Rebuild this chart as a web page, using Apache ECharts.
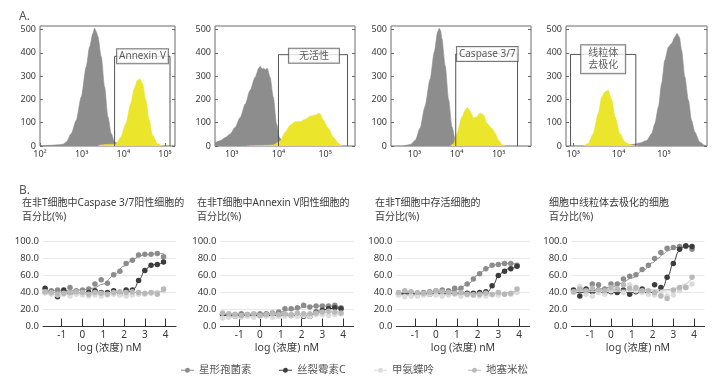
<!DOCTYPE html>
<html><head><meta charset="utf-8">
<script src="https://cdn.jsdelivr.net/npm/echarts@6/dist/echarts.min.js"></script>
<style>html,body{margin:0;padding:0;background:#fff}#c{width:720px;height:376px}</style>
</head><body><div id="c"></div>
<script>
// ---------- Panel A: flow histograms (x = log10 intensity, y = count) ----------
const h1Gray = [[2.0,0],[2.24,3],[2.45,5],[2.56,8],[2.63,17],[2.75,53],[2.87,110],[2.99,210],[3.11,340],[3.19,425],[3.27,483],[3.31,505],[3.35,490],[3.39,470],[3.47,383],[3.55,254],[3.63,125],[3.71,53],[3.79,17],[3.90,7],[4.02,0]];
const h1Yellow = [[3.39,0],[3.45,4],[3.6,6],[3.79,8],[3.83,10],[3.94,39],[4.06,96],[4.18,182],[4.26,246],[4.34,282],[4.40,288],[4.46,268],[4.54,196],[4.62,110],[4.70,46],[4.82,10],[4.94,0]];
const h2Gray = [[2.64,14],[2.75,22],[2.86,36],[2.96,50],[3.07,79],[3.18,122],[3.29,180],[3.39,238],[3.50,295],[3.58,335],[3.61,342],[3.65,330],[3.68,334],[3.72,328],[3.76,334],[3.82,295],[3.89,209],[3.96,94],[4.02,36],[4.11,7],[4.18,0]];
const h2Yellow = [[3.32,0],[3.6,2],[3.89,4],[4.04,22],[4.14,58],[4.25,89],[4.36,104],[4.46,104],[4.57,114],[4.68,128],[4.79,133],[4.85,140],[4.89,138],[4.96,111],[5.07,75],[5.18,36],[5.29,10],[5.36,0]];
const h3Gray = [[2.74,0],[2.90,6],[3.02,25],[3.13,76],[3.25,170],[3.37,286],[3.47,403],[3.55,490],[3.59,505],[3.62,495],[3.65,461],[3.73,344],[3.81,199],[3.89,83],[3.97,25],[4.05,3],[4.10,0]];
const h3Yellow = [[3.85,0],[3.93,10],[4.01,54],[4.13,126],[4.21,156],[4.26,165],[4.33,148],[4.40,119],[4.48,126],[4.56,141],[4.64,134],[4.72,97],[4.84,76],[4.92,54],[5.00,25],[5.08,6],[5.16,0]];
const h4Yellow = [[3.22,0],[3.33,10],[3.44,53],[3.55,139],[3.63,211],[3.70,232],[3.77,239],[3.85,196],[3.92,125],[4.03,53],[4.14,17],[4.25,6],[4.36,1],[4.45,0]];
const h4Gray = [[4.10,0],[4.20,4],[4.32,7],[4.47,13],[4.62,24],[4.73,53],[4.80,96],[4.88,168],[4.95,268],[5.02,368],[5.10,425],[5.17,440],[5.24,468],[5.29,483],[5.34,468],[5.39,411],[5.46,297],[5.54,196],[5.61,110],[5.68,60],[5.79,17],[5.90,3],[5.95,0]];
// gates: [lowX, highX, topY]
const gate1 = [3.79, 5.12, 385];
const gate2 = [4.00, 5.48, 392];
const gate3 = [3.98, 5.45, 395];
const gate4 = [2.94, 4.38, 393];
const gateLabels = ['Annexin V', '无活性', 'Caspase 3/7', '线粒体\n去极化'];
const gateLabelAt = [[4.46, 385], [4.76, 387], [4.73, 395], [3.66, 372]];
const histTicks = [[2,3,4,5],[3,4,5],[3,4,5],[3,4,5]];
const histYTicks = [0,100,200,300,400,500];

// ---------- Panel B: dose response ----------
const compounds = ['星形孢菌素', '丝裂霉素C', '甲氨蝶呤', '地塞米松'];
const doseX = [-1.8,-1.5,-1.2,-0.9,-0.6,-0.3,0.0,0.3,0.6,0.9,1.2,1.5,1.8,2.1,2.4,2.7,3.0,3.3,3.6,3.9];
const fitX = [-1.8,-1.0,0.0,0.5,1.0,1.5,2.0,2.25,2.5,2.75,3.0,3.25,3.5,3.9];
const xTickVals = [-1,0,1,2,3,4];
const bTitles = ['在非T细胞中Caspase 3/7阳性细胞的\n百分比(%)', '在非T细胞中Annexin V阳性细胞的\n百分比(%)', '在非T细胞中存活细胞的\n百分比(%)', '细胞中线粒体去极化的细胞\n百分比(%)'];

const b1Star  = [40,42,43,40,46,42,43,44,50,55,51,61,65,74,78,84,85,85,86,82];
const b1Mito  = [45,40,35,43,39,39,39,40,42,40,40,42,38,43,43,54,66,72,73,76];
const b1Metho = [40,38,37,38,36,38,37,36,37,36,37,38,37,36,37,38,38,39,40,42];
const b1Dexa  = [41,40,38,39,40,41,40,38,40,39,38,40,41,40,41,40,39,40,38,44];
const b1StarFit  = [42,42,43,45,50,60,71,76,80,83,84.5,85,85.5,86];
const b1MitoFit  = [40,40,40,40,40,40,40,41,45,56,66,71,73,75];
const b1MethoFit = [38,38,38,38,37.5,37.5,37.5,37.5,38,38,38.5,39,39.5,41];
const b1DexaFit  = [40,40,40,40,40,40,40,40,40,40,40,40,40.5,42];

const b2Star  = [14,13,14,15,14,14,15,15,16,17,21,21,22,25,23,24,24,24,25,22];
const b2Mito  = [14,12,12,13,13,13,13,14,14,14,14,13,13,12,12,17,19,21,22,21];
const b2Metho = [10,11,12,11,12,11,12,12,11,12,12,13,12,13,12,14,14,13,14,15];
const b2Dexa  = [16,15,14,13,14,15,13,14,15,14,15,14,16,15,15,16,17,18,17,16];
const b2StarFit  = [14,14,14.5,15,17,20,22,23,23.5,24,24,24,24,23.5];
const b2MitoFit  = [13,13,13,13,13,13,13,13,13.5,15.5,18.5,20.5,21.5,22];
const b2MethoFit = [11,11,11.5,11.5,12,12,12.5,12.5,13,13,13.5,13.5,14,14.5];
const b2DexaFit  = [15,15,14.5,14.5,14.5,14.5,15,15,15.5,16,16.5,17,17,17];

const b3Star  = [39,41,40,38,40,41,42,43,42,45,45,50,56,62,68,72,73,74,74,72];
const b3Mito  = [38,38,38,38,38,38,39,39,39,39,39,39,39,40,41,48,60,65,68,71];
const b3Metho = [37,35,36,36,37,38,37,36,37,38,36,37,37,36,36,37,37,38,38,40];
const b3Dexa  = [40,42,41,40,39,40,42,41,40,39,40,38,37,38,39,38,40,38,39,44];
const b3StarFit  = [40,40,40.5,41,43,49,60,65,69,72,73.5,74,74,73.5];
const b3MitoFit  = [38.5,38.5,38.5,38.5,38.5,39,39,39.5,41,49,59,65,68,70];
const b3MethoFit = [37,37,37,37,37,37,37,37,37,37,37.5,38,38.5,39.5];
const b3DexaFit  = [40,40,40,40,39.5,39,39,39,39,39,39,39.5,40,42];

const b4Star  = [42,44,43,50,49,44,50,50,56,59,61,67,72,80,87,92,93,94,94,91];
const b4Mito  = [43,36,44,41,43,40,41,40,43,38,41,44,40,49,46,58,74,91,95,94];
const b4Metho = [40,47,38,36,40,38,42,44,40,49,42,40,38,37,38,36,37,42,46,50];
const b4Dexa  = [41,44,42,45,43,42,46,44,49,45,46,42,42,40,36,33,43,46,46,58];
const b4StarFit  = [41,42,46,51,57,65,75,80,85,89,92,93.5,94.5,95];
const b4MitoFit  = [40,40,40,40,40,40,40,41,46,60,75,88,93.5,95];
const b4MethoFit = [41,41,41,41,41,41,41,41,41.5,42,43,44.5,46.5,50];
const b4DexaFit  = [43,43,43,43,43,43,43,43,43,43.5,44,46,49,57];

// ---------- styling / layout ----------
const FONT = "'Noto Sans','Noto Sans CJK SC',sans-serif";
const TXT = '#3a3a3a';
const GRAY = '#8d8d8d', YELLOW = '#ebe52c';
const cColors = ['#8c8c8c', '#3c3c3c', '#dcdcdc', '#b9b9b9'];
const sup = {2:'²',3:'³',4:'⁴',5:'⁵'};
const LEGEND_ICON = 'path://M0,2.1L4,2.1L4,2.9L0,2.9Z M9,2.1L13,2.1L13,2.9L9,2.9Z M6.5,0A2.5,2.5 0 1 1 6.49,0Z';

const hist = [
  {left:40, width:135, min:2.0, max:5.24, gray:h1Gray, yellow:h1Yellow, gate:gate1, pad:[1,2]},
  {left:215, width:140, min:2.64, max:5.64, gray:h2Gray, yellow:h2Yellow, gate:gate2, pad:[1,10]},
  {left:391, width:140, min:2.44, max:5.77, gray:h3Gray, yellow:h3Yellow, gate:gate3, pad:[1,2]},
  {left:566, width:141, min:2.84, max:5.95, gray:h4Gray, yellow:h4Yellow, gate:gate4, pad:[2,7]}
];
const bPanels = [
  {left:43, titleLeft:17, d:[b1Star,b1Mito,b1Metho,b1Dexa], f:[b1StarFit,b1MitoFit,b1MethoFit,b1DexaFit]},
  {left:220.5, titleLeft:192, d:[b2Star,b2Mito,b2Metho,b2Dexa], f:[b2StarFit,b2MitoFit,b2MethoFit,b2DexaFit]},
  {left:396.5, titleLeft:370, d:[b3Star,b3Mito,b3Metho,b3Dexa], f:[b3StarFit,b3MitoFit,b3MethoFit,b3DexaFit]},
  {left:571.5, titleLeft:544, d:[b4Star,b4Mito,b4Metho,b4Dexa], f:[b4StarFit,b4MitoFit,b4MethoFit,b4DexaFit]}
];

const grid = [], xAxis = [], yAxis = [], series = [], title = [];
title.push({text:'A.', left:14, top:6, textStyle:{fontSize:12, fontWeight:'normal', color:'#555', fontFamily:FONT}});
title.push({text:'B.', left:14, top:180, textStyle:{fontSize:12, fontWeight:'normal', color:'#555', fontFamily:FONT}});

hist.forEach((h, i) => {
  grid.push({left:h.left, top:26, width:h.width, height:120, show:true, borderColor:'#6a6a6a', borderWidth:1, backgroundColor:'transparent'});
  xAxis.push({type:'value', gridIndex:i, min:h.min, max:h.max,
    axisLine:{show:false}, splitLine:{show:false},
    axisTick:{show:true, inside:true, length:3, customValues:histTicks[i], lineStyle:{color:'#6a6a6a'}},
    axisLabel:{customValues:histTicks[i], formatter:v => '10' + sup[v], fontSize:9, color:TXT, margin:4, fontFamily:FONT}});
  yAxis.push({type:'value', gridIndex:i, min:0, max:515,
    axisLine:{show:false}, splitLine:{show:false},
    axisTick:{show:true, inside:true, length:3, customValues:histYTicks, lineStyle:{color:'#6a6a6a'}},
    axisLabel:{customValues:histYTicks, fontSize:9, color:TXT, margin:4, fontFamily:FONT}});
  yAxis.push({type:'value', gridIndex:i, min:0, max:515, position:'right',
    axisLine:{show:false}, splitLine:{show:false},
    axisTick:{show:true, inside:true, length:3, customValues:histYTicks, lineStyle:{color:'#6a6a6a'}},
    axisLabel:{show:false}});
  const yi = i * 2;
  series.push({type:'line', xAxisIndex:i, yAxisIndex:yi, data:h.gray, symbol:'none', smooth:0.25, smoothMonotone:'x',
    lineStyle:{color:GRAY, width:0.6}, areaStyle:{color:GRAY, opacity:1}, z:2, silent:true, animation:false});
  series.push({type:'line', xAxisIndex:i, yAxisIndex:yi, data:h.yellow, symbol:'none', smooth:0.25, smoothMonotone:'x',
    lineStyle:{color:YELLOW, width:0.6}, areaStyle:{color:YELLOW, opacity:1}, z:3, silent:true, animation:false});
  const g = h.gate;
  series.push({type:'line', xAxisIndex:i, yAxisIndex:yi, data:[[g[0],0],[g[0],g[2]],[g[1],g[2]],[g[1],0]],
    symbol:'none', lineStyle:{color:'#555', width:1}, z:4, silent:true, animation:false});
  series.push({type:'scatter', xAxisIndex:i, yAxisIndex:yi, data:[gateLabelAt[i]], symbolSize:1,
    itemStyle:{color:'rgba(0,0,0,0)'}, z:5, silent:true, animation:false,
    label:{show:true, position:'inside', formatter:gateLabels[i], backgroundColor:'#fff', borderColor:'#555', borderWidth:1,
      padding:h.pad, fontSize:10, lineHeight:12, color:'#333', fontFamily:FONT}});
});

const pair = (xs, ys) => xs.map((x, k) => [x, ys[k]]);
const drawOrder = [2, 3, 0, 1];
bPanels.forEach((p, j) => {
  const gi = 4 + j;
  grid.push({left:p.left, top:241.5, width:133, height:85});
  xAxis.push({type:'value', gridIndex:gi, min:-1.9, max:4.5,
    axisLine:{show:true, onZero:false, lineStyle:{color:'#333', width:1}},
    axisTick:{show:true, inside:true, length:8, customValues:xTickVals, lineStyle:{color:'#333'}},
    axisLabel:{customValues:xTickVals, fontSize:10, color:TXT, margin:4, fontFamily:FONT},
    splitLine:{show:false},
    name:'log (浓度) nM', nameLocation:'middle', nameGap:16, nameTextStyle:{fontSize:10.5, color:TXT, fontFamily:FONT}});
  yAxis.push({type:'value', gridIndex:gi, min:0, max:100, interval:20,
    axisLine:{show:false}, axisTick:{show:false},
    axisLabel:{formatter:v => v.toFixed(1), fontSize:9.5, color:TXT, margin:4, fontFamily:FONT},
    splitLine:{show:true, lineStyle:{color:'#e8e8e8', width:1}}});
  const yi = 8 + j;
  title.push({text:bTitles[j], left:p.titleLeft, top:191,
    textStyle:{fontSize:10, lineHeight:14, fontWeight:'normal', color:TXT, fontFamily:FONT}});
  drawOrder.forEach(c => {
    series.push({type:'line', name:compounds[c], xAxisIndex:gi, yAxisIndex:yi, data:pair(fitX, p.f[c]),
      smooth:0.4, smoothMonotone:'x', symbol:'circle', symbolSize:5, showSymbol:false,
      lineStyle:{color:cColors[c], width:1}, itemStyle:{color:cColors[c]}, z:3 + c, silent:true, animation:false});
    series.push({type:'scatter', name:compounds[c], xAxisIndex:gi, yAxisIndex:yi, data:pair(doseX, p.d[c]),
      symbolSize:5.5, itemStyle:{color:cColors[c], opacity:1}, z:3 + c, silent:true, animation:false});
  });
});

const legendLefts = [176, 274, 369, 463];
const legend = compounds.map((c, k) => ({
  data:[{name:c, icon:LEGEND_ICON}], left:legendLefts[k], top:360, itemWidth:13, itemHeight:5, itemGap:5,
  selectedMode:false, textStyle:{fontSize:10.5, color:'#555', fontFamily:FONT}
}));

const chart = echarts.init(document.getElementById('c'), null, {renderer:'canvas'});
chart.setOption({animation:false, backgroundColor:'#fff', textStyle:{fontFamily:FONT},
  title, grid, xAxis, yAxis, series, legend});
</script></body></html>
